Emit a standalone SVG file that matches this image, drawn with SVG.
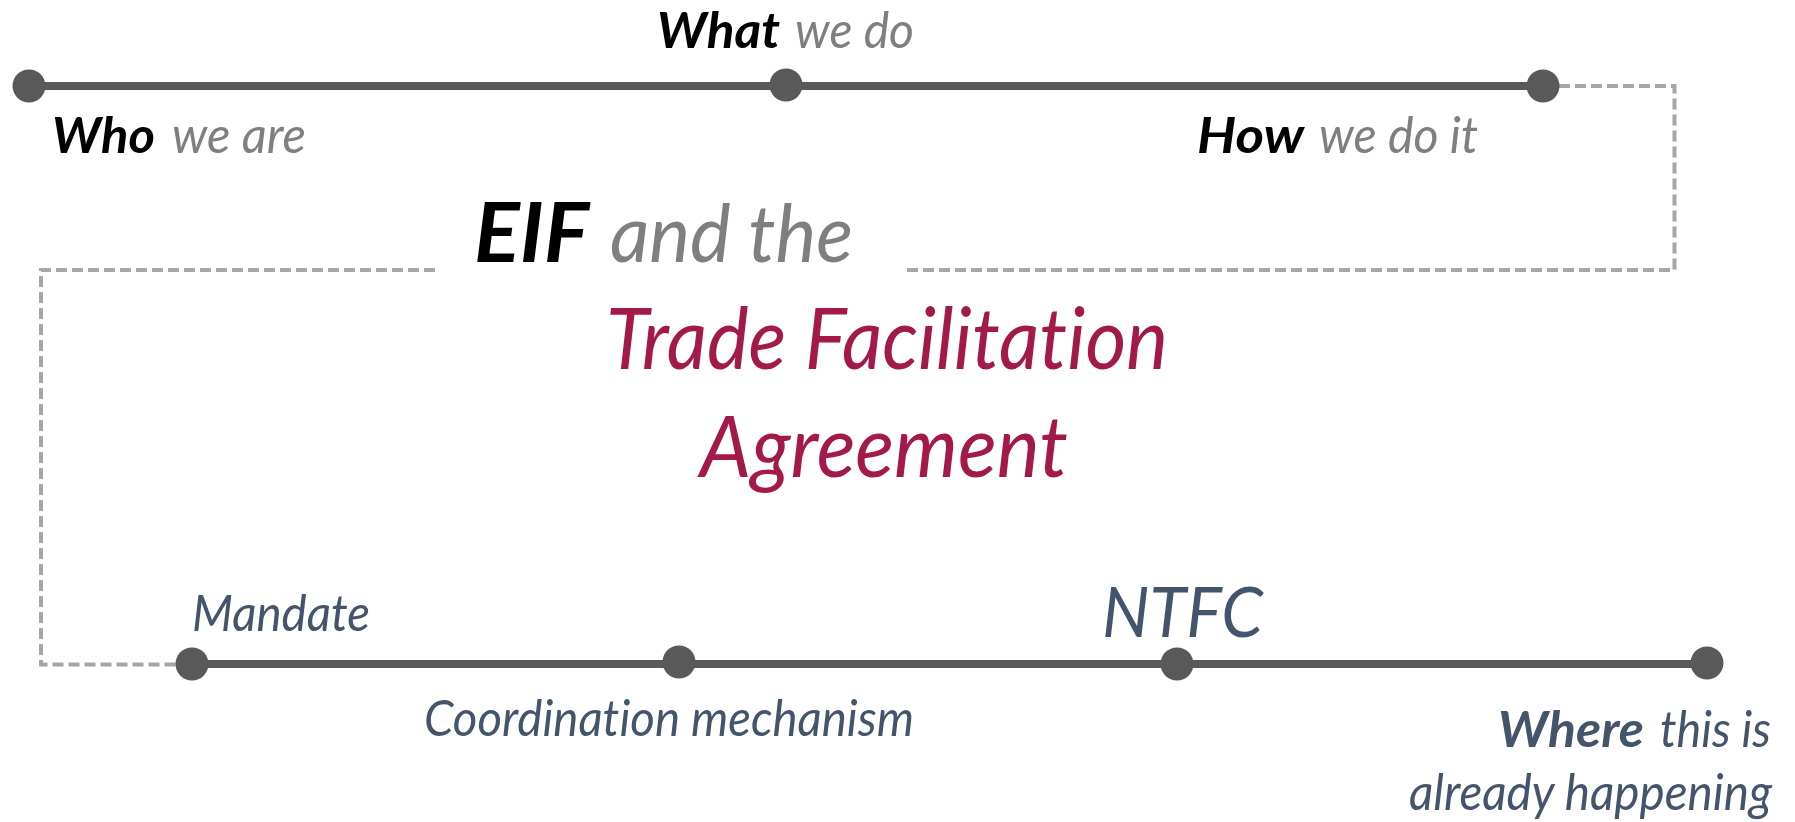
<svg xmlns="http://www.w3.org/2000/svg" width="1795" height="822" viewBox="0 0 1795 822">
<style>
.axis{stroke:#595959;stroke-width:8;fill:none}
.dash{stroke:#A6A6A6;stroke-width:4;fill:none;stroke-dasharray:11 5}
.dot{fill:#595959}
text{font-family:Lato,"Open Sans","Liberation Sans",sans-serif;font-style:italic;font-variant-ligatures:none;font-feature-settings:"liga" 0,"dlig" 0}
.b{font-weight:bold;fill:#000}
.g{fill:#7F7F7F}
.s{fill:#44546A}
.sb{fill:#44546A;font-weight:bold}
.r{fill:#A2194A}
.lbl{font-size:50px}
</style>
<rect width="1795" height="822" fill="#fff"/>
<g id="connectors">
<line class="axis" x1="29" y1="86" x2="1543" y2="86"/>
<line class="axis" x1="192" y1="664" x2="1707" y2="664"/>
<path class="dash" d="M1543 86 H1674.5 V270 H904"/>
<path class="dash" d="M435 270 H41 V664.5 H192"/>
</g>
<g id="node-who">
<circle class="dot" cx="29" cy="86" r="16.5"/>
<text class="lbl b" x="52" y="153" textLength="103" lengthAdjust="spacingAndGlyphs">Who</text>
<text class="lbl g" x="172" y="153" textLength="134" lengthAdjust="spacingAndGlyphs">we are</text>
</g>
<g id="node-what">
<circle class="dot" cx="786" cy="85" r="16.5"/>
<text class="lbl b" x="657" y="48" textLength="123" lengthAdjust="spacingAndGlyphs">What</text>
<text class="lbl g" x="795" y="48" textLength="119" lengthAdjust="spacingAndGlyphs">we do</text>
</g>
<g id="node-how">
<circle class="dot" cx="1543" cy="86" r="16.5"/>
<text class="lbl b" x="1197" y="153" textLength="107" lengthAdjust="spacingAndGlyphs">How</text>
<text class="lbl g" x="1319" y="153" textLength="159" lengthAdjust="spacingAndGlyphs">we do it</text>
</g>
<g id="title">
<text class="b" x="474" y="261.5" font-size="82" textLength="115" lengthAdjust="spacingAndGlyphs">EIF</text>
<text class="g" x="610" y="261.5" font-size="80" textLength="243" lengthAdjust="spacingAndGlyphs">and the</text>
<text class="r" x="606" y="368.5" font-size="85" textLength="562" lengthAdjust="spacingAndGlyphs">Trade Facilitation</text>
<text class="r" x="700" y="476.5" font-size="85" textLength="368" lengthAdjust="spacingAndGlyphs">Agreement</text>
</g>
<g id="node-mandate">
<circle class="dot" cx="192" cy="664" r="16.5"/>
<text class="lbl s" x="192" y="630.5" textLength="178" lengthAdjust="spacingAndGlyphs">Mandate</text>
</g>
<g id="node-coordination">
<circle class="dot" cx="679" cy="662" r="16.5"/>
<text class="lbl s" x="424" y="736" textLength="490" lengthAdjust="spacingAndGlyphs">Coordination mechanism</text>
</g>
<g id="node-ntfc">
<circle class="dot" cx="1177" cy="664" r="16.5"/>
<text class="s" x="1102" y="637" font-size="70" textLength="161" lengthAdjust="spacingAndGlyphs">NTFC</text>
</g>
<g id="node-where">
<circle class="dot" cx="1707" cy="663" r="16.5"/>
<text class="lbl sb" x="1498" y="746.5" textLength="146" lengthAdjust="spacingAndGlyphs">Where</text>
<text class="lbl s" x="1660" y="746.5" textLength="111" lengthAdjust="spacingAndGlyphs">this is</text>
<text class="lbl s" x="1409" y="810" textLength="363" lengthAdjust="spacingAndGlyphs">already happening</text>
</g>
</svg>
